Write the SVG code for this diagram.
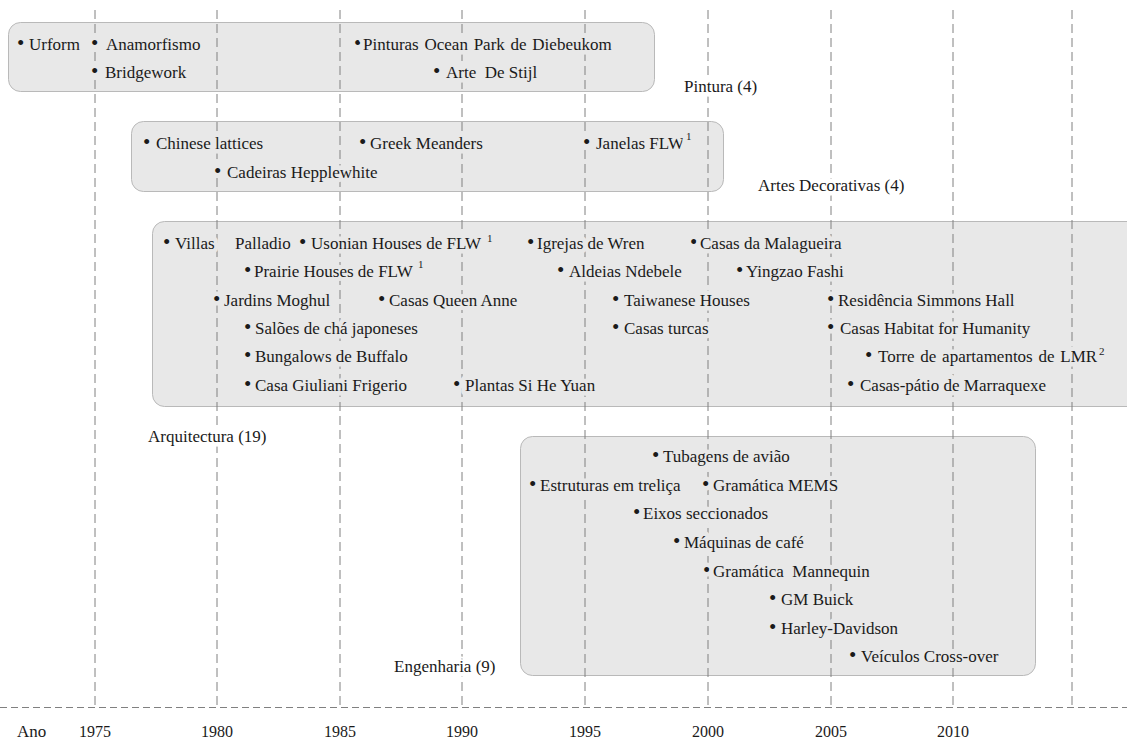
<svg xmlns="http://www.w3.org/2000/svg" width="1127" height="742" viewBox="0 0 1127 742">
  <style>
    .box { fill: #e8e8e8; stroke: #b9b9b9; stroke-width: 1; }
    .grid { stroke: #808080; stroke-width: 1; stroke-dasharray: 9 5; fill: none; }
    .axis { stroke: #808080; stroke-width: 1.2; stroke-dasharray: 7 4; fill: none; }
    text { font-family: "Liberation Serif", "DejaVu Serif", serif; font-size: 17px; fill: #1a1a1a; }
    .item { stroke: #e8e8e8; stroke-width: 9; stroke-linejoin: round; paint-order: stroke; }
    .label { stroke: #ffffff; stroke-width: 9; stroke-linejoin: round; paint-order: stroke; }
    .b { font-size: 21px; }
    .pre { white-space: pre; }
    .sup { font-size: 11px; }
    .year { font-size: 16px; text-anchor: middle; }
  </style>

  <rect width="1127" height="742" fill="#ffffff"/>

  <!-- category panels -->
  <g id="pintura">
    <rect class="box" x="8.5" y="22.5" width="646" height="69" rx="12"/>
  </g>
  <g id="artes-decorativas">
    <rect class="box" x="131.5" y="121.5" width="592" height="70" rx="12"/>
  </g>
  <g id="arquitectura">
    <rect class="box" x="152.5" y="221.5" width="990" height="185" rx="12"/>
  </g>
  <g id="engenharia">
    <rect class="box" x="520.5" y="436.5" width="515" height="239" rx="12"/>
  </g>

  <!-- year grid and time axis -->
  <g id="connectors">
    <path class="grid" d="M95,10V707 M217,10V707 M340,10V707 M462,10V707 M585,10V707 M708,10V707 M831,10V707 M953,10V707 M1072,10V707"/>
    <path class="axis" d="M0,707.5H1127"/>
  </g>

  <!-- Pintura items -->
  <g id="pintura-items">
    <g id="p-urform"><text class="item" y="50"><tspan class="b" x="17">•</tspan><tspan x="29">Urform</tspan></text></g>
    <g id="p-anamorfismo"><text class="item" y="50"><tspan class="b" x="91">•</tspan><tspan x="106">Anamorfismo</tspan></text></g>
    <g id="p-bridgework"><text class="item" y="78"><tspan class="b" x="91">•</tspan><tspan x="105">Bridgework</tspan></text></g>
    <g id="p-ocean-park"><text class="item" y="50" word-spacing="1.5"><tspan class="b" x="354">•</tspan><tspan x="363">Pinturas Ocean Park de Diebeukom</tspan></text></g>
    <g id="p-de-stijl"><text class="item pre" y="78"><tspan class="b" x="433">•</tspan><tspan x="446">Arte  De Stijl</tspan></text></g>
    <text class="label" x="684" y="92">Pintura (4)</text>
  </g>

  <!-- Artes Decorativas items -->
  <g id="artes-items">
    <g id="a-chinese"><text class="item" y="149"><tspan class="b" x="143">•</tspan><tspan x="156">Chinese lattices</tspan></text></g>
    <g id="a-greek"><text class="item" y="149"><tspan class="b" x="359">•</tspan><tspan x="370">Greek Meanders</tspan></text></g>
    <g id="a-janelas"><text class="item" y="149"><tspan class="b" x="583">•</tspan><tspan x="596">Janelas FLW</tspan><tspan class="sup" x="686" y="140">1</tspan></text></g>
    <g id="a-hepplewhite"><text class="item" y="178"><tspan class="b" x="214">•</tspan><tspan x="227">Cadeiras Hepplewhite</tspan></text></g>
    <text class="label" x="758" y="191">Artes Decorativas (4)</text>
  </g>

  <!-- Arquitectura items -->
  <g id="arquitectura-items">
    <g id="r-villas"><text class="item" y="249"><tspan class="b" x="163">•</tspan><tspan x="175">Villas</tspan><tspan x="235">Palladio</tspan></text></g>
    <g id="r-usonian"><text class="item" y="249"><tspan class="b" x="299">•</tspan><tspan x="311">Usonian Houses de FLW</tspan><tspan class="sup" x="487" y="242">1</tspan></text></g>
    <g id="r-wren"><text class="item" y="249"><tspan class="b" x="527">•</tspan><tspan x="537">Igrejas de Wren</tspan></text></g>
    <g id="r-malagueira"><text class="item" y="249"><tspan class="b" x="690">•</tspan><tspan x="700">Casas da Malagueira</tspan></text></g>
    <g id="r-prairie"><text class="item" y="277"><tspan class="b" x="244">•</tspan><tspan x="254">Prairie Houses de FLW</tspan><tspan class="sup" x="418" y="268">1</tspan></text></g>
    <g id="r-ndebele"><text class="item" y="277"><tspan class="b" x="557">•</tspan><tspan x="569">Aldeias Ndebele</tspan></text></g>
    <g id="r-yingzao"><text class="item" y="277"><tspan class="b" x="736">•</tspan><tspan x="746">Yingzao Fashi</tspan></text></g>
    <g id="r-moghul"><text class="item" y="306"><tspan class="b" x="213">•</tspan><tspan x="224">Jardins Moghul</tspan></text></g>
    <g id="r-queen-anne"><text class="item" y="306"><tspan class="b" x="378">•</tspan><tspan x="389">Casas Queen Anne</tspan></text></g>
    <g id="r-taiwanese"><text class="item" y="306"><tspan class="b" x="612">•</tspan><tspan x="624">Taiwanese Houses</tspan></text></g>
    <g id="r-simmons"><text class="item" y="306"><tspan class="b" x="827">•</tspan><tspan x="838">Residência Simmons Hall</tspan></text></g>
    <g id="r-saloes"><text class="item" y="334"><tspan class="b" x="244">•</tspan><tspan x="255">Salões de chá japoneses</tspan></text></g>
    <g id="r-turcas"><text class="item" y="334"><tspan class="b" x="612">•</tspan><tspan x="624">Casas turcas</tspan></text></g>
    <g id="r-habitat"><text class="item" y="334"><tspan class="b" x="827">•</tspan><tspan x="840">Casas Habitat for Humanity</tspan></text></g>
    <g id="r-bungalows"><text class="item" y="362"><tspan class="b" x="244">•</tspan><tspan x="255">Bungalows de Buffalo</tspan></text></g>
    <g id="r-lmr"><text class="item" y="362" word-spacing="1.5"><tspan class="b" x="865">•</tspan><tspan x="878">Torre de apartamentos de LMR</tspan><tspan class="sup" x="1099" y="355">2</tspan></text></g>
    <g id="r-giuliani"><text class="item" y="391"><tspan class="b" x="244">•</tspan><tspan x="255">Casa Giuliani Frigerio</tspan></text></g>
    <g id="r-si-he-yuan"><text class="item" y="391"><tspan class="b" x="453">•</tspan><tspan x="465">Plantas Si He Yuan</tspan></text></g>
    <g id="r-marraquexe"><text class="item" y="391"><tspan class="b" x="847">•</tspan><tspan x="860">Casas-pátio de Marraquexe</tspan></text></g>
    <text class="label" x="148" y="442">Arquitectura (19)</text>
  </g>

  <!-- Engenharia items -->
  <g id="engenharia-items">
    <g id="e-tubagens"><text class="item" y="462"><tspan class="b" x="652">•</tspan><tspan x="663">Tubagens de avião</tspan></text></g>
    <g id="e-trelica"><text class="item" y="491"><tspan class="b" x="529">•</tspan><tspan x="540">Estruturas em treliça</tspan></text></g>
    <g id="e-mems"><text class="item" y="491"><tspan class="b" x="702">•</tspan><tspan x="713">Gramática MEMS</tspan></text></g>
    <g id="e-eixos"><text class="item" y="519"><tspan class="b" x="633">•</tspan><tspan x="643">Eixos seccionados</tspan></text></g>
    <g id="e-maquinas"><text class="item" y="548"><tspan class="b" x="673">•</tspan><tspan x="684">Máquinas de café</tspan></text></g>
    <g id="e-mannequin"><text class="item pre" y="577"><tspan class="b" x="703">•</tspan><tspan x="713">Gramática  Mannequin</tspan></text></g>
    <g id="e-buick"><text class="item" y="605"><tspan class="b" x="769">•</tspan><tspan x="781">GM Buick</tspan></text></g>
    <g id="e-harley"><text class="item" y="634"><tspan class="b" x="769">•</tspan><tspan x="781">Harley-Davidson</tspan></text></g>
    <g id="e-crossover"><text class="item" y="662"><tspan class="b" x="849">•</tspan><tspan x="861">Veículos Cross-over</tspan></text></g>
    <text class="label" x="394" y="672">Engenharia (9)</text>
  </g>

  <!-- axis labels -->
  <g id="axis-labels">
    <text x="17" y="737" font-size="16">Ano</text>
    <text class="year" x="95" y="737">1975</text>
    <text class="year" x="217" y="737">1980</text>
    <text class="year" x="340" y="737">1985</text>
    <text class="year" x="462" y="737">1990</text>
    <text class="year" x="585" y="737">1995</text>
    <text class="year" x="708" y="737">2000</text>
    <text class="year" x="831" y="737">2005</text>
    <text class="year" x="953" y="737">2010</text>
  </g>
</svg>
